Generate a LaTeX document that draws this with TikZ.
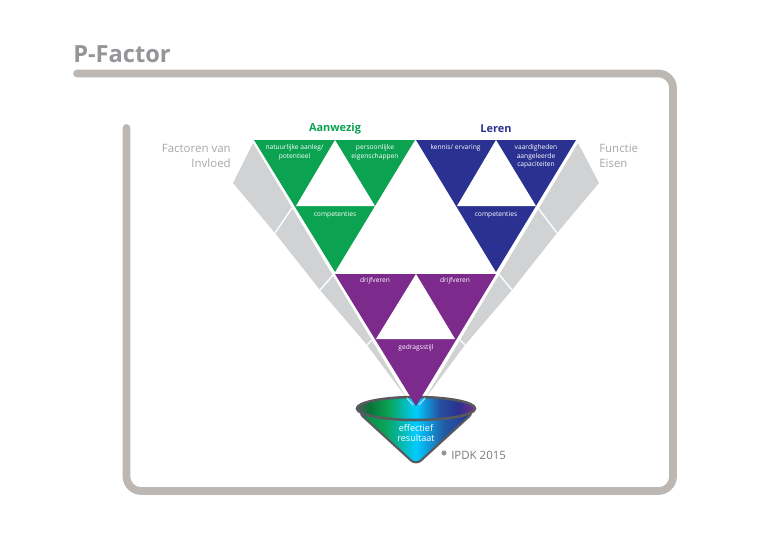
\documentclass[tikz,border=0pt]{standalone}
\usepackage{fontspec}
\setmainfont{Open Sans}
\definecolor{framegray}{HTML}{BDB7B3}
\definecolor{titlegray}{HTML}{939598}
\definecolor{labelgray}{HTML}{A5A7AA}
\definecolor{bandgray}{HTML}{D1D2D3}
\definecolor{pgreen}{HTML}{0BA252}
\definecolor{pblue}{HTML}{2B3190}
\definecolor{ppurple}{HTML}{7C2A8C}
\definecolor{rimgray}{HTML}{585A5E}
\pgfdeclarehorizontalshading{funnelshade}{100bp}{
  color(0bp)=(rimgray);
  color(25bp)=(rimgray);
  color(30bp)=(pgreen!70!black);
  color(38bp)=(pgreen);
  color(50bp)=(cyan!80!blue);
  color(60bp)=(pblue!85!cyan);
  color(68bp)=(pblue);
  color(75bp)=(ppurple);
  color(100bp)=(ppurple)}
\pgfdeclarehorizontalshading{coneshade}{100bp}{
  color(0bp)=(pgreen!80!black);
  color(25bp)=(pgreen!80!black);
  color(36bp)=(pgreen);
  color(50bp)=(cyan!80!blue);
  color(62bp)=(pblue!80!cyan);
  color(75bp)=(pblue);
  color(100bp)=(pblue)}
\tikzset{
  frameline/.style={draw=framegray,line width=5.8pt,line cap=round,rounded corners=11pt},
  band/.style={fill=bandgray},
  divider/.style={draw=white,line width=1pt},
  tritext/.style={text=white,font=\fontsize{5}{6.5}\selectfont,align=center,inner sep=0pt},
  sidetext/.style={text=labelgray,font=\fontsize{8.6}{11.2}\selectfont,inner sep=0pt},
  headtext/.style={font=\bfseries\fontsize{8.2}{10}\selectfont,inner sep=0pt},
  hole/.style={fill=white}
}
\begin{document}
\begin{tikzpicture}[x=0.75pt,y=-0.75pt]
\useasboundingbox[fill=white] (0,0) rectangle (768,546);
% frame
\draw[frameline] (126.5,128) -- (126.5,491) -- (673,491) -- (673,73.5) -- (77,73.5);
\node[anchor=base west,text=titlegray,font=\bfseries\fontsize{17.7}{20}\selectfont,inner sep=0pt] (title) at (73,62) {P-Factor};
% side bands
\fill[band] (253,143) -- (233,183) -- (275,233) -- (320,290) -- (367,345) -- (405,396) -- (406,397) -- cycle;
\fill[band] (578,143) -- (599,183) -- (557,233) -- (512,290) -- (465,345) -- (427,396) -- (426,397) -- cycle;
\draw[divider] (292,208) -- (275,233);
\draw[divider] (335,273) -- (320,290);
\draw[divider] (372,340) -- (367,345);
\draw[divider] (538,208) -- (557,233);
\draw[divider] (498,273) -- (512,290);
\draw[divider] (460,340) -- (465,345);
% funnel
\draw[rimgray,line width=1.6pt,rounded corners=5pt,shading=coneshade] (358,412) -- (416,465) -- (474,412) -- cycle;
\draw[rimgray,line width=1.9pt,shading=funnelshade] (416,408.5) ellipse [x radius=59,y radius=11.5];
\draw[cyan!40!white,line width=1pt] (407,398) -- (413,405);
\draw[cyan!40!white,line width=1pt] (425,398) -- (419,405);
% triangles
\fill[pgreen] (254,140) -- (415,140) -- (335,272) -- cycle;
\fill[hole] (335,140) -- (296,206) -- (375,206) -- cycle;
\fill[pblue] (416,140) -- (576,140) -- (496,272) -- cycle;
\fill[hole] (496,140) -- (457,206) -- (536,206) -- cycle;
\fill[ppurple] (335,274) -- (496,274) -- (416,406) -- cycle;
\fill[hole] (416,274) -- (376,339) -- (455,339) -- cycle;
% heads
\node[headtext,text=pgreen] (aanwezig) at (335,128.5) {Aanwezig};
\node[headtext,text=pblue] (leren) at (496,128.5) {Leren};
\node[sidetext,anchor=east,align=right] (factoren) at (231,155.5) {Factoren van\\Invloed};
\node[sidetext,anchor=west,align=left] (functie) at (599,155.5) {Functie\\Eisen};
% triangle labels
\node[tritext] (n1) at (294.5,152.5) {natuurlijke aanleg/\\potentieel};
\node[tritext] (n2) at (375,152.5) {persoonlijke\\eigenschappen};
\node[tritext] (n3) at (335,214.5) {competenties};
\node[tritext] (n4) at (455.5,148) {kennis/ ervaring};
\node[tritext] (n5) at (536,156.5) {vaardigheden\\aangeleerde\\capaciteiten};
\node[tritext] (n6) at (496,214.5) {competenties};
\node[tritext] (n7) at (375,281) {drijfveren};
\node[tritext] (n8) at (455,281) {drijfveren};
\node[tritext] (n9) at (416,348) {gedragsstijl};
\node[text=white,font=\fontsize{6.8}{7.8}\selectfont,align=center,inner sep=0pt] (n10) at (416,433) {effectief\\resultaat};
% credit
\fill[titlegray] (444,453) circle (2.6);
\node[anchor=west,text=rimgray!80,font=\fontsize{8.6}{10}\selectfont,inner sep=0pt] (ipdk) at (451,455.5) {IPDK 2015};
\end{tikzpicture}
\end{document}
